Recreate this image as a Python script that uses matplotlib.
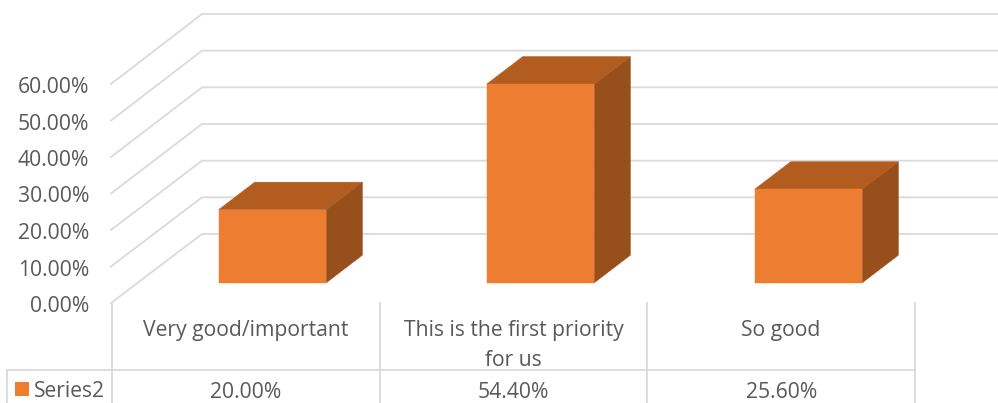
import matplotlib
matplotlib.use("Agg")
import matplotlib.pyplot as plt
from matplotlib.patches import Polygon, Rectangle

categories = ["Very good/important", "This is the first priority\nfor us", "So good"]
values = [20.0, 54.4, 25.6]
value_labels = ["20.00%", "54.40%", "25.60%"]
series_name = "Series2"
y_ticks = [0, 10, 20, 30, 40, 50, 60]
y_labels = ["0.00%", "10.00%", "20.00%", "30.00%", "40.00%", "50.00%", "60.00%"]

W, H = 998, 403
FRONT, SIDE, TOP = "#ED7D31", "#97501C", "#B35C20"
GRID, TEXT = "#DADADA", "#595959"
FS = 15.2
LW = 1.3
FAM = ["Open Sans", "DejaVu Sans"]

fig = plt.figure(figsize=(W / 100, H / 100), dpi=100)
ax = fig.add_axes([0, 0, 1, 1])
ax.axis("off")

# category index / value axis: bars live on this scale
X0, XS = 272.5, 268.0      # px of category 0, px per category
Y0, YS = 282.7, 3.65       # px of value 0, px per unit
ax.set_xlim((0 - X0) / XS, (W - X0) / XS)
ax.set_ylim((Y0 - H) / YS, Y0 / YS)

def dx(px):
    return (px - X0) / XS

def dy(px):
    return (Y0 - px) / YS

BAR_W = 107.6 / XS
DEP_X, DEP_Y = 36.0 / XS, 27.5 / YS

# walls and gridlines
for t, lab in zip(y_ticks, y_labels):
    yf = 303 - 3.65 * t
    yb = 234 - 220 / 60 * t
    ax.plot([dx(111), dx(202), dx(W)], [dy(yf), dy(yb), dy(yb)],
            color=GRID, lw=LW, solid_joinstyle="miter", zorder=1)
    ax.text(dx(89), dy(yf + 1), lab, ha="right", va="center_baseline",
            fontsize=FS, color=TEXT, family=FAM)

# bars: side and top first, front last so no seam shows
for i, v in enumerate(values):
    l, r = i - BAR_W / 2, i + BAR_W / 2
    ax.add_patch(Polygon([(r, 0), (r + DEP_X, DEP_Y), (r + DEP_X, v + DEP_Y), (r, v)],
                         fc=SIDE, ec=SIDE, lw=0.4, zorder=3))
    ax.add_patch(Polygon([(l, v), (l + DEP_X, v + DEP_Y), (r + DEP_X, v + DEP_Y), (r, v)],
                         fc=TOP, ec=TOP, lw=0.4, zorder=3))
    ax.add_patch(Rectangle((l, 0), BAR_W, v, fc=FRONT, ec=FRONT, lw=0.3, zorder=4))

# data table
cell_edges = [112, 379.7, 647.3, 915]
for xp in cell_edges:
    ax.plot([dx(xp)] * 2, [dy(303), dy(H)], color=GRID, lw=LW, zorder=1)
ax.plot([dx(7), dx(915)], [dy(370), dy(370)], color=GRID, lw=LW, zorder=1)
ax.plot([dx(7), dx(7)], [dy(370), dy(H)], color=GRID, lw=LW, zorder=1)

for i, (c, vl) in enumerate(zip(categories, value_labels)):
    xc = dx((cell_edges[i] + cell_edges[i + 1]) / 2)
    for j, line in enumerate(c.split("\n")):
        ax.text(xc, dy(328 + 30 * j), line, ha="center", va="center_baseline",
                fontsize=FS, color=TEXT, family=FAM)
    ax.text(xc, dy(390), vl, ha="center", va="center_baseline", fontsize=FS,
            color=TEXT, family=FAM)

ax.add_patch(Rectangle((dx(15), dy(396)), 14 / XS, 14 / YS, fc=FRONT, ec="none"))
ax.text(dx(34), dy(389), series_name, ha="left", va="center_baseline", fontsize=FS,
        color=TEXT, family=FAM)

fig.savefig("out.png", dpi=100)
